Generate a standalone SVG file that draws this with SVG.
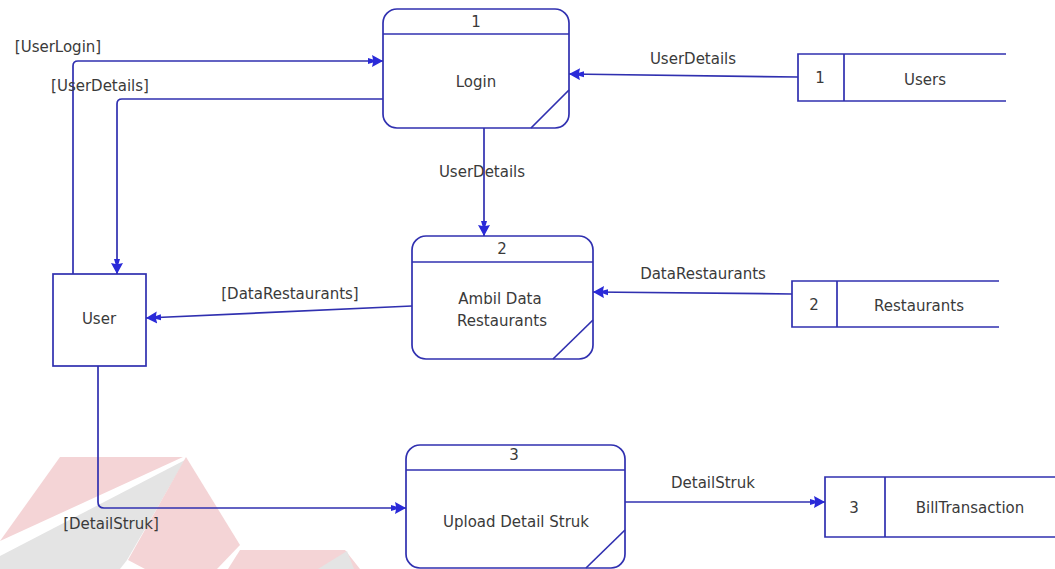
<svg xmlns="http://www.w3.org/2000/svg" width="1055" height="569" viewBox="0 0 1055 569">
<style>
.bg{fill:#ffffff}
.shape{fill:#ffffff;stroke:#3030b0;stroke-width:1.7}
.ln{fill:none;stroke:#3030b0;stroke-width:1.7}
.flow{fill:none;stroke:#3030b0;stroke-width:1.7;marker-end:url(#arr)}
.t{font-family:"DejaVu Sans","Verdana",sans-serif;font-size:15px;fill:#3a3a3a;text-anchor:middle}
.wp{fill:#f4d4d6}
.wg{fill:#e4e4e4}
</style>
<defs>
<marker id="arr" markerUnits="userSpaceOnUse" markerWidth="16" markerHeight="14" refX="15" refY="6" orient="auto">
<path d="M0,3 L5,4.5 L4,0 L15,6 L4,12 L5,7.5 L0,9 Z" fill="#2a2ad8"/>
</marker>
</defs>
<rect class="bg" x="0" y="0" width="1055" height="569"/>
<g id="watermark">
<polygon class="wp" points="60,457 183,457 0,541"/>
<polygon class="wg" points="185,460 0,556 0,569 120,569 127,560"/>
<polygon class="wp" points="186,457 240,545 217,569 145,569 128,560"/>
<polygon class="wp" points="240,550 345,550 360,569 228,569"/>
<polygon class="wg" points="347,551 318,569 354,569"/>
</g>
<g id="connectors">
<path id="c-userlogin" class="flow" d="M73,274 V66 Q73,61 78,61 H383"/>
<path id="c-userdetails-back" class="flow" d="M383,99 H122 Q117,99 117,104 V274"/>
<path id="c-users-login" class="flow" d="M798,77 L569,74"/>
<path id="c-login-ambil" class="flow" d="M484,128 V236"/>
<path id="c-rest-ambil" class="flow" d="M792,294 L593,292"/>
<path id="c-ambil-user" class="flow" d="M412,306 L146,318"/>
<path id="c-user-upload" class="flow" d="M98,366 V502 Q98,508 104,508 H406"/>
<path id="c-upload-bill" class="flow" d="M625,502 H825"/>
<text class="t" x="58" y="52">[UserLogin]</text>
<text class="t" x="100" y="91">[UserDetails]</text>
<text class="t" x="693" y="64">UserDetails</text>
<text class="t" x="482" y="177">UserDetails</text>
<text class="t" x="290" y="299">[DataRestaurants]</text>
<text class="t" x="703" y="279">DataRestaurants</text>
<text class="t" x="111" y="529">[DetailStruk]</text>
<text class="t" x="713" y="488">DetailStruk</text>
</g>
<g id="p1-login">
<rect class="shape" x="383" y="9" width="186" height="119" rx="14"/>
<line class="ln" x1="383" y1="34" x2="569" y2="34"/>
<line class="ln" x1="569" y1="90" x2="531" y2="128"/>
<text class="t" x="476" y="27">1</text>
<text class="t" x="476" y="87">Login</text>
</g>
<g id="p2-ambil">
<rect class="shape" x="412" y="236" width="181" height="123" rx="14"/>
<line class="ln" x1="412" y1="262" x2="593" y2="262"/>
<line class="ln" x1="593" y1="320" x2="553" y2="359"/>
<text class="t" x="502" y="254">2</text>
<text class="t" x="500" y="304">Ambil Data</text>
<text class="t" x="502" y="326">Restaurants</text>
</g>
<g id="p3-upload">
<rect class="shape" x="406" y="445" width="219" height="123" rx="14"/>
<line class="ln" x1="406" y1="470" x2="625" y2="470"/>
<line class="ln" x1="625" y1="530" x2="586" y2="568"/>
<text class="t" x="514" y="460">3</text>
<text class="t" x="516" y="527">Upload Detail Struk</text>
</g>
<g id="e-user">
<rect class="shape" x="53" y="274" width="93" height="92"/>
<text class="t" x="99" y="324">User</text>
</g>
<g id="ds1-users">
<path class="ln" d="M1006,54 H798 V101 H1006 M844,54 V101"/>
<text class="t" x="820" y="83">1</text>
<text class="t" x="925" y="85">Users</text>
</g>
<g id="ds2-restaurants">
<path class="ln" d="M999,281 H792 V327 H999 M837,281 V327"/>
<text class="t" x="814" y="310">2</text>
<text class="t" x="919" y="311">Restaurants</text>
</g>
<g id="ds3-bill">
<path class="ln" d="M1055,477 H825 V537 H1055 M885,477 V537"/>
<text class="t" x="854" y="513">3</text>
<text class="t" x="970" y="513">BillTransaction</text>
</g>
</svg>
